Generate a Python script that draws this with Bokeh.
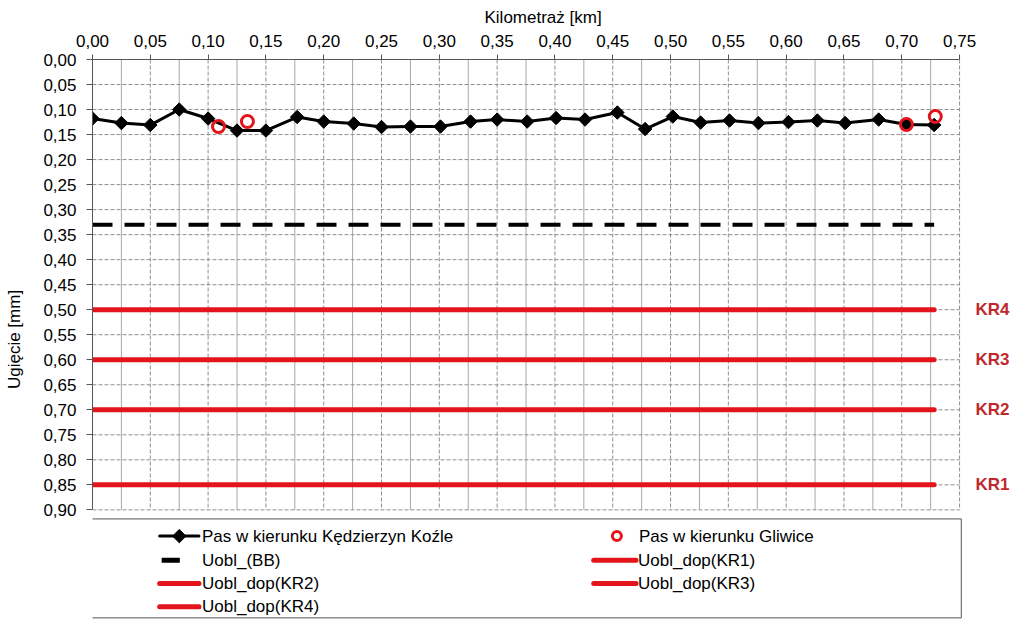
from bokeh.plotting import figure
from bokeh.models import Range1d, FixedTicker
from bokeh.embed import file_html
from bokeh.resources import INLINE
from bokeh.core.properties import value

# ---------------- data ----------------
km_kk = [0.000, 0.025, 0.050, 0.075, 0.100, 0.125, 0.150, 0.177, 0.200, 0.226,
         0.250, 0.275, 0.301, 0.327, 0.350, 0.376, 0.401, 0.426, 0.454, 0.478,
         0.502, 0.526, 0.551, 0.576, 0.602, 0.627, 0.651, 0.680, 0.704, 0.728]
ugi_kk = [0.118, 0.127, 0.131, 0.100, 0.118, 0.142, 0.142, 0.115, 0.124, 0.128,
          0.135, 0.134, 0.134, 0.124, 0.120, 0.124, 0.117, 0.120, 0.106, 0.139,
          0.114, 0.126, 0.122, 0.127, 0.125, 0.122, 0.127, 0.120, 0.130, 0.131]
km_gl = [0.109, 0.134, 0.704, 0.729]
ugi_gl = [0.134, 0.124, 0.130, 0.114]

bb_level = 0.33
kr_names = ["KR1", "KR2", "KR3", "KR4"]
kr_levels = [0.85, 0.70, 0.60, 0.50]
line_span = [0.0, 0.728]

series_names = ["Pas w kierunku Kędzierzyn Koźle", "Pas w kierunku Gliwice",
                "Uobl_(BB)", "Uobl_dop(KR1)", "Uobl_dop(KR2)", "Uobl_dop(KR3)",
                "Uobl_dop(KR4)"]

x_ticks = [0.00, 0.05, 0.10, 0.15, 0.20, 0.25, 0.30, 0.35, 0.40, 0.45, 0.50,
           0.55, 0.60, 0.65, 0.70, 0.75]
x_minor = [0.025, 0.075, 0.125, 0.175, 0.225, 0.275, 0.325, 0.375, 0.425,
           0.475, 0.525, 0.575, 0.625, 0.675, 0.725]
x_tick_labels = ["0,00", "0,05", "0,10", "0,15", "0,20", "0,25", "0,30", "0,35",
                 "0,40", "0,45", "0,50", "0,55", "0,60", "0,65", "0,70", "0,75"]
y_ticks = [0.00, 0.05, 0.10, 0.15, 0.20, 0.25, 0.30, 0.35, 0.40, 0.45, 0.50,
           0.55, 0.60, 0.65, 0.70, 0.75, 0.80, 0.85, 0.90]
y_tick_labels = ["0,00", "0,05", "0,10", "0,15", "0,20", "0,25", "0,30", "0,35",
                 "0,40", "0,45", "0,50", "0,55", "0,60", "0,65", "0,70", "0,75",
                 "0,80", "0,85", "0,90"]
x_max = 0.75
y_max = 0.90

# ---------------- layout / style ----------------
FONT = "Liberation Sans"
FS = "17px"
RED = "#e3141b"
DARKRED = "#c0282d"
GRID = "#8f8f8f"
AXIS = "#555555"

SX, SY = 0.993, 0.985        # observed screenshot scale (page px -> image px)
PAGE = 8                     # page margin
W, H = 1014, 619
LEFT = round(99 / SX) - PAGE   # frame left inside figure
TOP = round(63 / SY) - PAGE    # frame top inside figure
PX_X = 1148.0 / SX           # page px per km
PX_Y = 495.56 / SY           # page px per mm


def X(img_px):   # target image pixel -> x data (legend / label placement)
    return (img_px / SX - PAGE - LEFT) / PX_X


def Y(img_py):   # target image pixel -> y data
    return (img_py / SY - PAGE - TOP) / PX_Y


x_end = (W - LEFT) / PX_X
y_end = (H - TOP) / PX_Y

p = figure(width=W, height=H, x_range=Range1d(0, x_end), y_range=Range1d(y_end, 0.0),
           x_axis_location="above", output_backend="svg", toolbar_location=None,
           min_border_left=LEFT, min_border_right=0, min_border_top=TOP,
           min_border_bottom=0)
p.outline_line_color = None
p.grid.visible = False

xt = FixedTicker(ticks=x_ticks, minor_ticks=x_minor)
yt = FixedTicker(ticks=y_ticks)
p.xaxis.ticker = xt
p.yaxis.ticker = yt
p.xaxis.bounds = (0, x_max)
p.yaxis.bounds = (0, y_max)
p.xaxis.major_label_overrides = dict(zip(x_ticks, x_tick_labels))
p.yaxis.major_label_overrides = dict(zip(y_ticks, y_tick_labels))

for ax, tout, stand in ((p.xaxis, 5, 8), (p.yaxis, 6, 10)):
    ax.axis_line_color = AXIS
    ax.major_tick_line_color = AXIS
    ax.major_tick_out = tout
    ax.major_tick_in = 0
    ax.minor_tick_line_color = None
    ax.major_label_text_font = FONT
    ax.major_label_text_font_size = FS
    ax.major_label_text_color = "black"
    ax.major_label_standoff = stand

p.yaxis.axis_label = "Ugięcie [mm]"
p.yaxis.axis_label_text_font = FONT
p.yaxis.axis_label_text_font_size = FS
p.yaxis.axis_label_text_font_style = "normal"
p.yaxis.axis_label_text_color = "black"
p.yaxis.axis_label_standoff = 16

p.title.text = "Kilometraż [km]"
p.title.align = "left"
p.title.offset = 392
p.title.text_font = FONT
p.title.text_font_size = FS
p.title.text_font_style = "normal"
p.title.text_color = "black"

# grid lines limited to the chart area
n_xm = len(x_minor)
p.segment(x0=x_minor, y0=[0] * n_xm, x1=x_minor, y1=[y_max] * n_xm,
          line_color="#a8a8a8", line_width=1)
n_x = len(x_ticks)
p.segment(x0=x_ticks[1:], y0=[0] * (n_x - 1), x1=x_ticks[1:], y1=[y_max] * (n_x - 1),
          line_color=GRID, line_width=1, line_dash="4 2")
n_y = len(y_ticks)
p.segment(x0=[0] * (n_y - 1), y0=y_ticks[1:], x1=[x_max] * (n_y - 1), y1=y_ticks[1:],
          line_color=GRID, line_width=1, line_dash="4 2")

# series
p.line(km_kk, ugi_kk, line_color="black", line_width=3)
p.scatter(km_kk, ugi_kk, marker="square", angle=0.785398, size=9.5,
          fill_color="black", line_color="black")
p.scatter(km_gl, ugi_gl, marker="circle", size=12, fill_color=None,
          line_color=RED, line_width=3)
p.line(line_span, [bb_level, bb_level], line_color="black", line_width=4, line_dash="20 12")
for lvl in kr_levels:
    p.line(line_span, [lvl, lvl], line_color=RED, line_width=5, line_cap="round")
p.text(x=[X(993)] * len(kr_names), y=kr_levels, text=kr_names,
       text_font=value(FONT), text_font_size=value(FS), text_font_style="bold",
       text_color=DARKRED, text_align="center", text_baseline="middle")

# ---------------- legend ----------------
p.quad(left=[X(98)], right=[X(962)], top=[Y(518)], bottom=[Y(616)],
       fill_color="white", line_color=AXIS, line_width=1)

rows = [Y(535), Y(559), Y(582), Y(605)]


def txt(px, y, s):
    p.text(x=[X(px)], y=[y], text=[s], text_font=value(FONT), text_font_size=value(FS),
           text_baseline="middle", text_align="left", text_color="black")


def seg(px0, px1, y, color, w):
    p.line([X(px0), X(px1)], [y, y], line_color=color, line_width=w, line_cap="round")


# column 1
seg(166, 205, rows[0], "black", 3)
p.scatter([X(185.5)], [rows[0]], marker="square", angle=0.785398, size=9.5,
          fill_color="black", line_color="black")
txt(208, rows[0], series_names[0])
p.line([X(168), X(186)], [rows[1], rows[1]], line_color="black", line_width=5)
txt(208, rows[1], series_names[2])
seg(166, 205, rows[2], RED, 5)
txt(208, rows[2], series_names[4])
seg(166, 205, rows[3], RED, 5)
txt(208, rows[3], series_names[6])
# column 2
p.scatter([X(620)], [rows[0]], marker="circle", size=9, fill_color=None,
          line_color=RED, line_width=3)
txt(642, rows[0], series_names[1])
seg(597, 639, rows[1], RED, 5)
txt(641, rows[1], series_names[3])
seg(597, 639, rows[2], RED, 5)
txt(641, rows[2], series_names[5])

open("out.html", "w").write(file_html(p, INLINE))
